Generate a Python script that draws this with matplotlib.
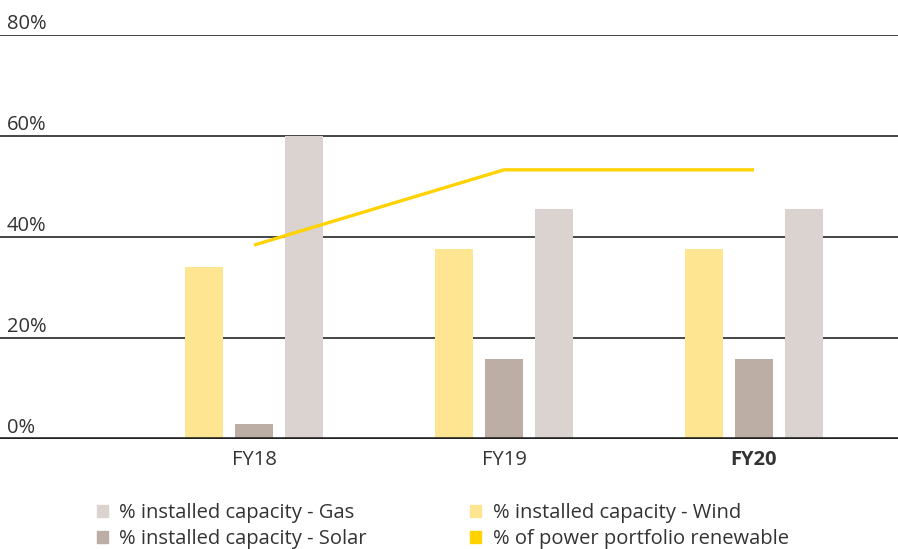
import matplotlib.pyplot as plt
import numpy as np
from matplotlib.patches import Patch

plt.rcParams['font.family'] = ['Open Sans', 'DejaVu Sans']

years = ["FY18", "FY19", "FY20"]
wind = [34, 37.6, 37.6]
solar = [3, 15.8, 15.8]
gas = [60, 45.5, 45.5]
renewable = [38.4, 53.3, 53.3]

c_wind = "#fde591"
c_solar = "#bcada5"
c_gas = "#dad3d0"
c_line = "#ffd200"

fig = plt.figure(figsize=(8.98, 5.49), dpi=100)
ax = fig.add_axes([0, 1 - 439 / 549, 1, (439 - 35) / 549])

x = np.arange(len(years))
w = 0.152
ax.bar(x - 0.2, wind, w, color=c_wind, zorder=3)
ax.bar(x, solar, w, color=c_solar, zorder=3)
ax.bar(x + 0.2, gas, w, color=c_gas, zorder=3)
ax.plot(x, renewable, color=c_line, lw=2.4, zorder=4, solid_capstyle='butt')

ax.set_xlim(-254 / 250, (898 - 254) / 250)
ax.set_ylim(0, 80)

# gridlines + labels sitting above them
for v in [20, 40, 60, 80]:
    ax.axhline(v, color="#444444", lw=1.4, zorder=1)
for v in [0, 20, 40, 60, 80]:
    ax.text(7 / 898, v + 0.2, f"{v}%", transform=ax.get_yaxis_transform(),
            fontsize=14.5, color="#333333", va="bottom", ha="left")
ax.axhline(0, color="#222222", lw=2.6, zorder=5)

for s in ax.spines.values():
    s.set_visible(False)
ax.set_yticks([])
ax.set_xticks(x)
ax.set_xticklabels(years, fontsize=14.5, color="#333333")
ax.tick_params(axis="x", length=0, pad=8)
ax.get_xticklabels()[2].set_fontweight("bold")

handles = [Patch(color=c_gas), Patch(color=c_solar), Patch(color=c_wind), Patch(color=c_line)]
labels = ["% installed capacity - Gas", "% installed capacity - Solar",
          "% installed capacity - Wind", "% of power portfolio renewable"]
fig.legend(handles, labels, ncol=2, loc="upper left", bbox_to_anchor=(91 / 898, 1 - 497 / 549),
           frameon=False, fontsize=14.5, handlelength=0.55, handleheight=0.55,
           handletextpad=0.55, columnspacing=5.15, labelspacing=0.3,
           borderaxespad=0, borderpad=0.3, labelcolor="#333333")

fig.savefig("out.png", dpi=100)
